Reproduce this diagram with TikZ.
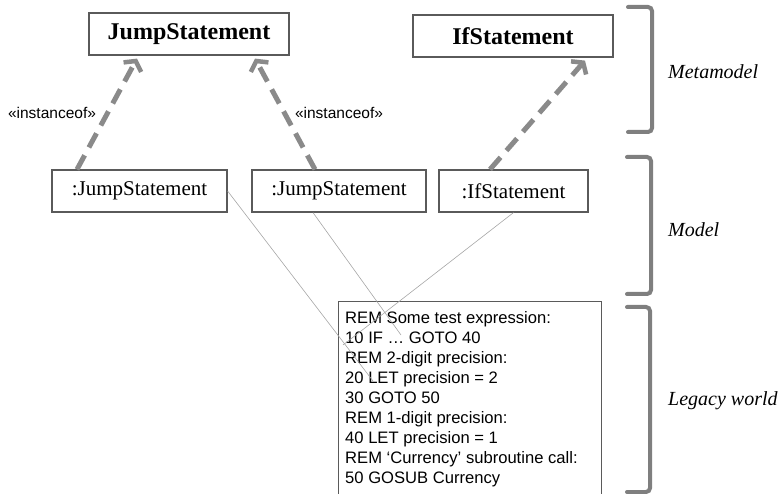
\documentclass[tikz,border=0pt]{standalone}
\usepackage{fontspec}
\setmainfont{Liberation Serif}
\setsansfont{Liberation Sans}
\usetikzlibrary{arrows.meta}

\definecolor{boxline}{HTML}{5A5A5A}
\definecolor{instline}{HTML}{8A8A8A}
\definecolor{bracketgray}{HTML}{7F7F7F}
\definecolor{traceline}{HTML}{A6A6A6}

\tikzset{
  classbox/.style={draw=boxline, line width=1.2pt, minimum height=42pt, inner sep=0pt,
    font=\fontsize{24}{28}\selectfont\bfseries},
  objbox/.style={draw=boxline, line width=1.2pt, minimum height=42pt, inner sep=0pt,
    font=\fontsize{21}{25}\selectfont},
  instanceof/.style={draw=instline, line width=5pt, dash pattern=on 16pt off 9pt,
    -{Straight Barb[length=7pt,width=20pt,line width=4.5pt]}},
  stereo/.style={font=\sffamily\fontsize{15.5}{18}\selectfont},
  trace/.style={draw=traceline, line width=0.6pt},
  layerbracket/.style={draw=bracketgray, line width=4pt, rounded corners=4pt, line cap=round},
  layerlabel/.style={font=\itshape\fontsize{20}{24}\selectfont, anchor=west, inner sep=0pt},
  codetext/.style={font=\sffamily\fontsize{16.6}{20}\selectfont, align=left, inner sep=0pt}
}

\begin{document}
\begin{tikzpicture}[x=1pt, y=-1pt]
  \useasboundingbox (0,0) rectangle (779,494);

  % metamodel classes
  \node[classbox, minimum width=200pt] (jump) at (189,34) {JumpStatement};
  \node[classbox, minimum width=200pt] (if) at (513,36) {IfStatement};

  % model objects
  \node[objbox, minimum width=175pt] (m1) at (139.5,191) {:JumpStatement};
  \node[objbox, minimum width=174pt] (m2) at (339,191) {:JumpStatement};
  \node[objbox, minimum width=149pt] (m3) at (513.5,191) {:IfStatement};

  % legacy code listing (box runs past the lower edge)
  \begin{scope}
    \clip (0,0) rectangle (779,494);
    \node[draw=boxline, line width=1pt, minimum width=263pt, minimum height=230pt,
          anchor=north west, inner sep=0pt] (legacy) at (338,301) {};
  \end{scope}
  \node[codetext, anchor=north west] (code) at (345,311) {%
    REM Some test expression:\\
    10 IF … GOTO 40\\
    REM 2-digit precision:\\
    20 LET precision = 2\\
    30 GOTO 50\\
    REM 1-digit precision:\\
    40 LET precision = 1\\
    REM ‘Currency’ subroutine call:\\
    50 GOSUB Currency};

  % trace links from model objects into the listing
  \coordinate (tA) at (373,381);
  \coordinate (tB) at (401,335);
  \coordinate (tC) at (343,345);
  \draw[trace] (m1.east) -- (tA);
  \draw[trace] ([xshift=-26pt]m2.south) -- (tB);
  \draw[trace] (m3.south) -- (tC);

  % instance-of dependencies
  \draw[instanceof] ([xshift=-62.5pt]m1.north) -- ([xshift=-52pt,yshift=-3pt]jump.south);
  \draw[instanceof] ([xshift=-24pt]m2.north) -- ([xshift=66pt,yshift=-3pt]jump.south);
  \draw[instanceof] ([xshift=-23.5pt]m3.north) -- ([xshift=72pt,yshift=-3pt]if.south);

  \node[stereo] (st1) at (52,113) {«instanceof»};
  \node[stereo] (st2) at (339,113) {«instanceof»};

  % layer brackets and names
  \draw[layerbracket] (628,7) -- (652,7) -- (652,132) -- (628,132);
  \draw[layerbracket] (627,157) -- (651,157) -- (651,294) -- (627,294);
  \draw[layerbracket] (627,307) -- (650,307) -- (650,492) -- (627,492);

  \node[layerlabel] (lmeta) at (668,72) {Metamodel};
  \node[layerlabel] (lmodel) at (668,230) {Model};
  \node[layerlabel] (llegacy) at (668,401) {Legacy world};
\end{tikzpicture}
\end{document}
